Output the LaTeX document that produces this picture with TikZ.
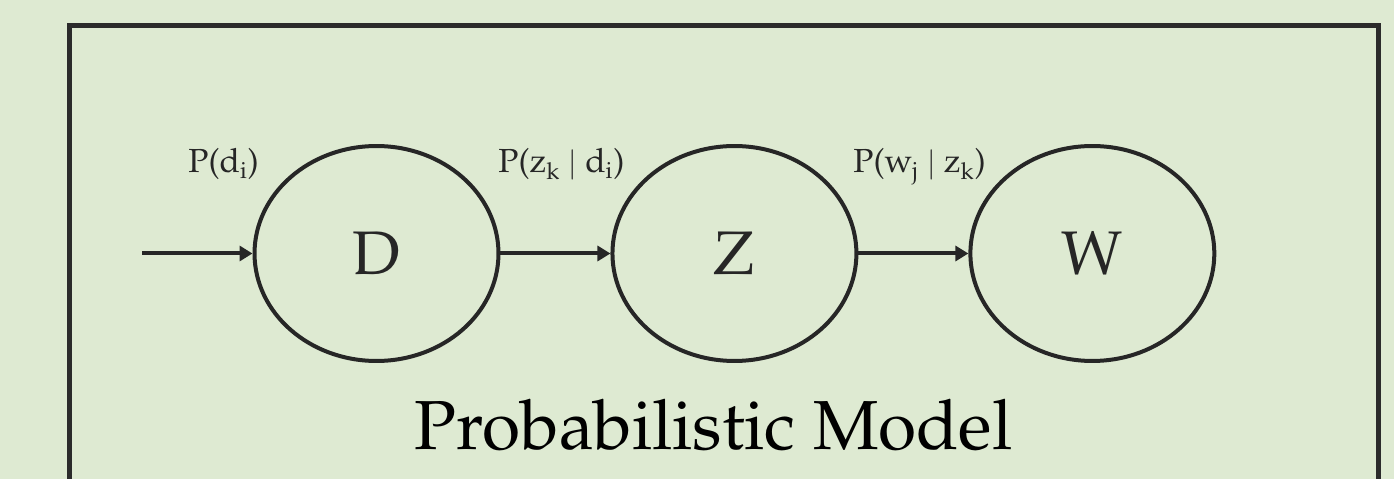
\documentclass[tikz,border=0pt]{standalone}
\definecolor{PanelGreen}{RGB}{222,234,210}
\definecolor{FrameGray}{RGB}{43,43,43}
\definecolor{InkGray}{RGB}{38,38,38}
\usepackage{tikz}
\usetikzlibrary{positioning, arrows.meta, shapes.geometric}
\newcommand{\palafont}{\fontencoding{T1}\fontfamily{ppl}}

\begin{document}
\begin{tikzpicture}[x=0.02cm, y=-0.02cm, node distance=2.2cm,
    state/.style={ellipse, draw=InkGray, line width=0.08cm, minimum width=4.88cm, minimum height=4.3cm, inner sep=0pt, text=InkGray, font=\palafont\fontsize{35}{40}\selectfont},
    prob/.style={anchor=base west, inner sep=0pt, text=InkGray, font=\palafont\fontsize{19}{23}\selectfont},
    flow/.style={-{Triangle[length=0.26cm, width=0.3cm]}, line width=0.08cm, InkGray}]
  \useasboundingbox (0,0) rectangle (1394,479);
  \fill[PanelGreen] (0,0) rectangle (1394,479);
  \draw[FrameGray, line width=0.1cm] (69.5,479) -- (69.5,25.5) -- (1378,25.5) -- (1378,479);

  % the three states
  \node[state] (d) at (376.5,253.5) {D};
  \node[state, right=of d] (z) {Z};
  \node[state, right=of z] (w) {W};
  \coordinate (src) at (142,253.5);

  \draw[flow] (src) -- (d.west);
  \draw[flow] (d.east) -- (z.west);
  \draw[flow] (z.east) -- (w.west);

  \node[prob] (pd) at (188,173) {P(d\textsubscript{i})};
  \node[prob] (pzd) at (498,173) {P(z\textsubscript{k} $|$ d\textsubscript{i})};
  \node[prob] (pwz) at (853,173) {P(w\textsubscript{j} $|$ z\textsubscript{k})};

  \node[anchor=base, inner sep=0pt, font=\palafont\fontsize{39.5}{46}\selectfont] (title) at (713.5,450) {Probabilistic Model};
\end{tikzpicture}
\end{document}
